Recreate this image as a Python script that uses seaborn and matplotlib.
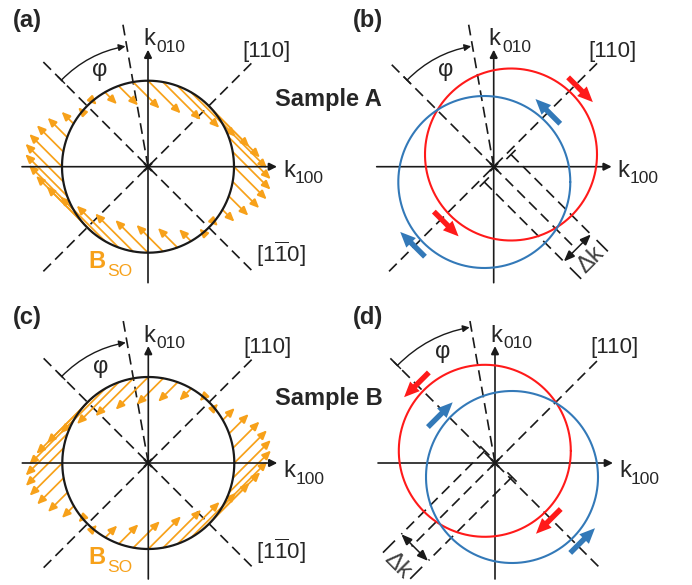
import numpy as np
import matplotlib
matplotlib.use("Agg")
import matplotlib.pyplot as plt
from matplotlib.patches import FancyArrowPatch
import seaborn as sns

sns.set_theme(style="white")
plt.rcParams["font.family"] = ["Liberation Sans", "DejaVu Sans"]
plt.rcParams["mathtext.fontset"] = "custom"
plt.rcParams["mathtext.rm"] = "Liberation Sans"
plt.rcParams["mathtext.it"] = "Liberation Sans:italic"
plt.rcParams["mathtext.bf"] = "Liberation Sans:bold"

# ---------------- schematic values ----------------
panel_labels = ["(a)", "(b)", "(c)", "(d)"]
sample_labels = ["Sample A", "Sample B"]
k_label = "k"
k_y_sub = "010"
k_x_sub = "100"
dir_110 = "[110]"
dir_1m10 = r"$\mathregular{[1\overline{1}0]}$"
phi_label = "φ"
bso_label = "B"
bso_sub = "SO"
dk_label = "Δk"

fermi_radius = 86.0            # Fermi contour radius
phi_deg = 10.0                 # tilt of the phi direction from k_010
bso_angles = np.arange(0, 360, 10)   # k-points carrying a B_SO arrow
bso_scale = 0.38               # B_SO length per unit k-projection

# centre offsets of the spin-split contours
shift_b = {"red": (17.3, 12.2), "blue": (-9.4, -15.3)}
shift_d = {"red": (-10.2, 12.2), "blue": (17.0, -14.0)}
# polar position (deg) of the spin arrows on each contour
spin_pos_b = {"red": [43, 227], "blue": [48, 221]}
spin_pos_d = {"red": [136, 312], "blue": [139, 318]}
# spin direction of each band
spin_dir_b = {"red": (1, -1), "blue": (-1, 1)}
spin_dir_d = {"red": (-1, -1), "blue": (1, 1)}

# ---------------- styles ----------------
ORANGE = "#F7A11A"
RED = "#FF1A1A"
BLUE = "#3379B8"
DASH = (6.5, 3.5)
LW = 1.2

W, H = 692, 585
PW, PH = 346, 292.5
fig = plt.figure(figsize=(W / 100, H / 100), dpi=100)

origins = {0: (148.0, 166.7), 1: (493.7, 166.7), 2: (148.3, 463.0), 3: (495.0, 463.0)}


def make_ax(i):
    col, row = i % 2, i // 2
    x0, y0 = col * PW, row * PH
    ox, oy = origins[i]
    ax = fig.add_axes([x0 / W, 1 - (y0 + PH) / H, PW / W, PH / H])
    ax.set_xlim(x0 - ox, x0 + PW - ox)
    ax.set_ylim(oy - (y0 + PH), oy - y0)
    ax.set_axis_off()
    return ax


def unit(deg):
    a = np.deg2rad(deg)
    return np.array([np.cos(a), np.sin(a)])


def dashed(ax, p0, p1, **kw):
    ax.plot([p0[0], p1[0]], [p0[1], p1[1]], color="k", lw=LW, dashes=DASH,
            solid_capstyle="butt", dash_capstyle="butt", **kw)


def solid(ax, p0, p1, lw=LW, color="k"):
    ax.plot([p0[0], p1[0]], [p0[1], p1[1]], color=color, lw=lw, solid_capstyle="butt")


def arrow(ax, p0, p1, style="-|>", ms=11, color="k", lw=LW, z=3):
    ax.add_patch(FancyArrowPatch(tuple(p0), tuple(p1), arrowstyle=style, mutation_scale=ms,
                                 color=color, lw=lw, shrinkA=0, shrinkB=0, zorder=z,
                                 joinstyle="miter"))


def circle(ax, center, r, color, lw):
    t = np.linspace(0, 2 * np.pi, 400)
    sns.lineplot(x=center[0] + r * np.cos(t), y=center[1] + r * np.sin(t), sort=False,
                 estimator=None, color=color, lw=lw, ax=ax, zorder=4)


def frame(ax, i, hx):
    # k_100 and k_010 axes
    arrow(ax, (hx[0], 0), (hx[1], 0), ms=12)
    arrow(ax, (0, -116), (0, 117), ms=12)
    ax.plot(0, 0, marker="x", ms=6, mew=1.6, color="k", zorder=5)
    # k labels
    ax.text(-5, 121.5, k_label, fontsize=17, ha="left", va="baseline")
    ax.text(8.5, 115, k_y_sub, fontsize=12.5, ha="left", va="baseline")
    yb = -10 if i < 2 else -14
    ax.text(hx[1] + 6, yb, k_label, fontsize=17, ha="left", va="baseline")
    ax.text(hx[1] + 18, yb - 6.5, k_x_sub, fontsize=12.5, ha="left", va="baseline")
    ax.text(119, 115.5, dir_110, fontsize=16, ha="center", va="center")
    # phi direction and angle
    r_phi = 138 if i == 3 else 122.5
    dashed(ax, (0, 0), 150 * unit(90 + phi_deg))
    p_start = r_phi * unit(135)
    p_end = r_phi * unit(90 + phi_deg + 0.6)
    span = np.deg2rad(135 - (90 + phi_deg))
    h = span / 2
    rad = -(1 / np.cos(h) - np.cos(h)) / (2 * np.sin(h))
    ax.add_patch(FancyArrowPatch(tuple(p_start), tuple(p_end), arrowstyle="-|>",
                                 connectionstyle=f"arc3,rad={rad}", mutation_scale=10,
                                 color="k", lw=1.0, shrinkA=0, shrinkB=0, zorder=3))
    solid(ax, (r_phi - 5) * unit(135), (r_phi + 5) * unit(135), lw=1.0)
    if i == 3:
        ax.text(-52, 111, phi_label, fontsize=17, ha="center", va="center")
    else:
        ax.text(-48, 96.5, phi_label, fontsize=17, ha="center", va="center")


def bso_panel(ax, i):
    circle(ax, (0, 0), fermi_radius, "k", 1.6)
    dashed(ax, 148 * unit(225), 148 * unit(45))
    dashed(ax, 148 * unit(135), 148 * unit(315))
    for a in bso_angles:
        k = fermi_radius * unit(a)
        if i == 0:
            v = bso_scale * (k[0] + k[1]) * np.array([1.0, -1.0])
        else:
            v = bso_scale * (k[0] - k[1]) * np.array([1.0, 1.0])
        if np.hypot(*v) < 1.0:
            continue
        arrow(ax, k, k + v, style="-|>,head_length=0.45,head_width=0.2", ms=12,
              color=ORANGE, lw=1.25, z=2)
    ax.text(133, -88, dir_1m10, fontsize=16, ha="center", va="center")
    ax.text(-60, -101.5, bso_label, fontsize=17, fontweight="bold", color=ORANGE,
            ha="left", va="baseline")
    ax.text(-41, -109.5, bso_sub, fontsize=12.5, color=ORANGE, ha="left", va="baseline")


def split_panel(ax, i, shifts, spin_pos, spin_dir, line_dir, s_end, tick_rng, dk_xy, dk_rot):
    u = np.array(line_dir, float) / np.hypot(*line_dir)
    perp = np.array([u[1], -u[0]])
    for band, col in (("red", RED), ("blue", BLUE)):
        c = np.array(shifts[band])
        circle(ax, c, fermi_radius, col, 1.5)
        # spin arrows on the contour
        d = np.array(spin_dir[band], float)
        d /= np.hypot(*d)
        for a in spin_pos[band]:
            m = c + 95 * unit(a)
            arrow(ax, m - 17.5 * d, m + 17.5 * d,
                  style="simple,head_length=0.85,head_width=0.75,tail_width=0.3",
                  ms=13, color=col, lw=0, z=6)
        # projection line from the contour centre
        dashed(ax, c, c + s_end * u)
        solid(ax, c - 6.5 * perp, c + 6.5 * perp)
        solid(ax, c + tick_rng[0] * u, c + tick_rng[1] * u)
    dashed(ax, (0, 0), s_end * u)
    # dimension arrow between the two projection lines
    cr, cb = np.array(shifts["red"]), np.array(shifts["blue"])
    pr = cr + s_end * u
    pb = cb + ((pr - cb) @ u) * u
    arrow(ax, pb, pr, style="<|-|>,head_length=0.55,head_width=0.22", ms=12, lw=1.1)
    ax.text(dk_xy[0], dk_xy[1], dk_label, fontsize=17, color="#404040", rotation=dk_rot,
            rotation_mode="anchor", ha="center", va="center")


axes = [make_ax(i) for i in range(4)]

# (a), (c): Fermi contour with spin-orbit field
for i in (0, 2):
    frame(axes[i], i, (-126, 129))
    bso_panel(axes[i], i)

# (b): contours split along [110]
ax = axes[1]
frame(ax, 1, (-117, 118))
dashed(ax, 148 * unit(225), 148 * unit(45))
dashed(ax, (0, 0), 148 * unit(135))
split_panel(ax, 1, shift_b, spin_pos_b, spin_dir_b, (1, -1), 113, (121, 137), (97, -93.5), 45)

# (d): contours split along [1-10]
ax = axes[3]
frame(ax, 3, (-117, 118))
dashed(ax, 148 * unit(135), 148 * unit(315))
dashed(ax, (0, 0), 148 * unit(45))
split_panel(ax, 3, shift_d, spin_pos_d, spin_dir_d, (-1, -1), 118, (127, 144), (-97.5, -103), -45)

# panel letters and sample names
letter_pos = [(13, 27), (353, 27), (13, 324), (353, 324)]
for lab, (x, y) in zip(panel_labels, letter_pos):
    fig.text(x / W, 1 - y / H, lab, fontsize=17, fontweight="bold", ha="left", va="baseline")
for lab, y in zip(sample_labels, (106, 405)):
    fig.text(275 / W, 1 - y / H, lab, fontsize=17, fontweight="bold", color="#262626",
             ha="left", va="baseline")

fig.savefig("out.png", dpi=100)
